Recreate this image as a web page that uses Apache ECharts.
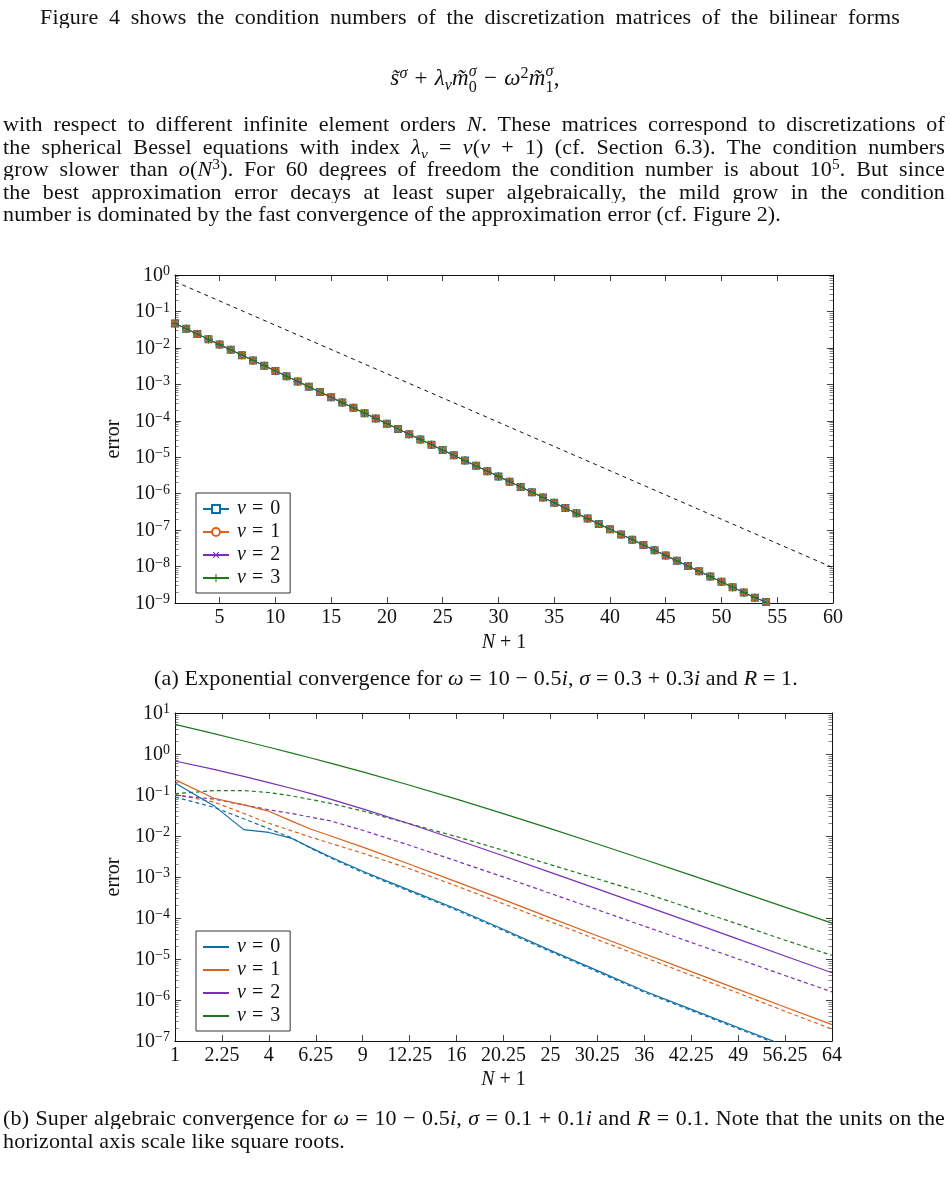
<!DOCTYPE html>
<html><head><meta charset="utf-8">
<script src="https://cdn.jsdelivr.net/npm/echarts@6/dist/echarts.min.js"></script>
<style>
html,body{margin:0;padding:0;background:#fff;}
#wrap{position:relative;width:950px;height:1180px;overflow:hidden;background:#fff;}
#chart{position:absolute;left:0;top:0;width:950px;height:1180px;}
.t{position:absolute;font-family:'Liberation Serif',serif;font-size:22px;letter-spacing:0.15px;color:#111;white-space:nowrap;line-height:23px;height:23px;z-index:2;}
.j{text-align:justify;text-align-last:justify;white-space:normal;overflow:hidden;}
sup,sub{font-size:0.7em;line-height:0;position:relative;vertical-align:baseline;}
sup{top:-0.45em;} sub{top:0.3em;}
.ss{display:inline-block;vertical-align:middle;font-size:0.7em;line-height:1;text-align:left;position:relative;top:-1px;}
.ss span{display:block;}
.op{margin:0 7px;}
</style></head>
<body><div id="wrap">
<div id="chart"></div>
<div class="t j" style="left:40px;top:5px;width:860px;">Figure 4 shows the condition numbers of the discretization matrices of the bilinear forms</div>
<div class="t" style="left:0;top:64px;width:950px;text-align:center;height:28px;line-height:28px;font-size:23px;"><i>s̃</i><sup><i>σ</i></sup><span class="op">+</span><i>λ</i><sub><i>ν</i></sub><i>m̃</i><span class="ss"><span><i>σ</i></span><span>0</span></span><span class="op">−</span><i>ω</i><sup>2</sup><i>m̃</i><span class="ss"><span><i>σ</i></span><span>1</span></span>,</div>
<div class="t j" style="left:3px;top:112px;width:942px;">with respect to different infinite element orders <i>N</i>. These matrices correspond to discretizations of</div>
<div class="t j" style="left:3px;top:135px;width:942px;">the spherical Bessel equations with index <i>λ</i><sub><i>ν</i></sub> = <i>ν</i>(<i>ν</i> + 1) (cf. Section 6.3). The condition numbers</div>
<div class="t j" style="left:3px;top:157px;width:942px;">grow slower than <i>o</i>(<i>N</i><sup>3</sup>). For 60 degrees of freedom the condition number is about 10<sup>5</sup>. But since</div>
<div class="t j" style="left:3px;top:180px;width:942px;">the best approximation error decays at least super algebraically, the mild grow in the condition</div>
<div class="t" style="left:3px;top:202px;">number is dominated by the fast convergence of the approximation error (cf. Figure 2).</div>
<div class="t" style="left:0;top:666px;width:952px;text-align:center;">(a) Exponential convergence for <i>ω</i> = 10 − 0.5<i>i</i>, <i>σ</i> = 0.3 + 0.3<i>i</i> and <i>R</i> = 1.</div>
<div class="t j" style="left:3px;top:1106px;width:942px;">(b) Super algebraic convergence for <i>ω</i> = 10 − 0.5<i>i</i>, <i>σ</i> = 0.1 + 0.1<i>i</i> and <i>R</i> = 0.1. Note that the units on the</div>
<div class="t" style="left:3px;top:1129px;">horizontal axis scale like square roots.</div>
</div>
<script>
// ---------- Data: chart (a) ----------
const nA = [1,2,3,4,5,6,7,8,9,10,11,12,13,14,15,16,17,18,19,20,21,22,23,24,25,26,27,
            28,29,30,31,32,33,34,35,36,37,38,39,40,41,42,43,44,45,46,47,48,49,50,51,52,53,54];
// error for nu = 0..3 (curves coincide at this scale)
const errA = [4.68e-2,3.35e-2,2.40e-2,1.72e-2,1.23e-2,8.84e-3,6.33e-3,4.54e-3,3.25e-3,2.33e-3,
              1.67e-3,1.20e-3,8.58e-4,6.15e-4,4.41e-4,3.16e-4,2.26e-4,1.62e-4,1.16e-4,8.33e-5,
              5.97e-5,4.28e-5,3.07e-5,2.20e-5,1.57e-5,1.13e-5,8.09e-6,5.80e-6,4.15e-6,2.98e-6,
              2.13e-6,1.53e-6,1.10e-6,7.85e-7,5.62e-7,4.03e-7,2.89e-7,2.07e-7,1.48e-7,1.06e-7,
              7.62e-8,5.46e-8,3.91e-8,2.80e-8,2.01e-8,1.44e-8,1.03e-8,7.39e-9,5.30e-9,3.80e-9,
              2.72e-9,1.95e-9,1.40e-9,1.06e-9];
const refAx = [1, 60];
const refAy = [0.66, 9.3e-9];
const xTicksA = [5,10,15,20,25,30,35,40,45,50,55,60];

// ---------- Data: chart (b) ----------
const nB = [1,2,3,4,5,6,7,9,12,16,20,25,30,36,42,49,56,64];
const b0 = [0.196,0.0550,0.0143,0.0122,8.91e-3,5.13e-3,3.16e-3,1.38e-3,5.13e-4,1.66e-4,5.62e-5,1.62e-5,5.50e-6,1.66e-6,6.17e-7,2.14e-7,7.94e-8,2.82e-8];
const b0d = [0.0891,0.0501,0.0263,0.0151,9.12e-3,5.01e-3,3.02e-3,1.29e-3,4.79e-4,1.55e-4,5.25e-5,1.51e-5,5.13e-6,1.55e-6,5.75e-7,2.00e-7,7.41e-8,2.63e-8];
const b1 = [0.237,0.0832,0.0575,0.0403,0.0234,0.0146,0.0103,5.35e-3,2.20e-3,7.62e-4,2.96e-4,1.01e-4,3.85e-5,1.34e-5,5.13e-6,1.82e-6,6.92e-7,2.51e-7];
const b1d = [0.102,0.0676,0.0355,0.0204,0.0135,9.33e-3,6.76e-3,3.80e-3,1.70e-3,6.03e-4,2.34e-4,8.13e-5,3.09e-5,1.10e-5,4.17e-6,1.48e-6,5.50e-7,1.95e-7];
const b2 = [0.676,0.420,0.284,0.201,0.146,0.108,0.0804,0.0458,0.0210,8.11e-3,3.44e-3,1.30e-3,5.35e-4,2.00e-4,8.13e-5,3.05e-5,1.22e-5,4.61e-6];
const b2d = [0.0984,0.0794,0.0575,0.0437,0.0355,0.0288,0.0237,0.0138,6.31e-3,2.45e-3,1.05e-3,3.98e-4,1.66e-4,6.31e-5,2.63e-5,1.00e-5,4.07e-6,1.58e-6];
const b3 = [5.30,3.13,2.08,1.46,1.07,0.798,0.608,0.367,0.183,0.0793,0.0366,0.0151,6.67e-3,2.67e-3,1.14e-3,4.52e-4,1.90e-4,7.50e-5];
const b3d = [0.107,0.128,0.128,0.115,0.0955,0.0776,0.0631,0.0407,0.0209,9.66e-3,4.68e-3,2.00e-3,9.33e-4,4.07e-4,1.76e-4,7.08e-5,2.95e-5,1.23e-5];

const legendLabels = ['0','1','2','3'];
const minorMult = [2,3,4,5,6,7,8,9];

// ---------- Styling ----------
const serif = "'Liberation Serif', 'DejaVu Serif', serif";
const ink = '#111';
const COL = ['#0c6ea6', '#d9621c', '#7a2fb8', '#1a7a1a'];

function minorVals(e0, e1){ const out=[]; for(let e=e0;e<e1;e++) for(const m of minorMult) out.push(m*Math.pow(10,e)); return out; }
function expLabel(v){ const e=Math.round(Math.log10(v)); return '{b|10}{s|'+(e<0?'\u2212'+(-e):e)+'}'; }
const richY = {
  b:{fontFamily:serif,fontSize:20,color:ink,lineHeight:21,verticalAlign:'bottom'},
  s:{fontFamily:serif,fontSize:14,color:ink,lineHeight:12,verticalAlign:'top'}
};
const nameRich = {
  i:{fontFamily:serif,fontSize:20,fontStyle:'italic',color:ink},
  e:{fontFamily:serif,fontSize:20,color:ink,padding:[0,5,0,5]}
};
const nameStyle = {fontFamily:serif,fontSize:20,color:ink,rich:nameRich};
const tickLine = {color:ink,width:0.8};

function yAxes(gi, min, max, minor){
  const base = {type:'log', logBase:10, min, max, gridIndex:gi, splitLine:{show:false}, minorTick:{show:false}};
  return [
    Object.assign({}, base, {position:'left', axisLine:{show:true,lineStyle:{color:ink,width:1}},
      axisTick:{show:true,inside:true,length:6,lineStyle:tickLine},
      axisLabel:{show:true,formatter:expLabel,rich:richY,margin:5,showMinLabel:true,showMaxLabel:true},
      name:'error', nameLocation:'middle', nameGap:44, nameRotate:90, nameTextStyle:nameStyle}),
    Object.assign({}, base, {position:'left', axisLine:{show:false},
      axisTick:{show:true,inside:true,length:3.5,customValues:minor,lineStyle:{color:'#333',width:0.6}}, axisLabel:{show:false}}),
    Object.assign({}, base, {position:'right', axisLine:{show:true,lineStyle:{color:ink,width:1}},
      axisTick:{show:true,inside:true,length:6,lineStyle:tickLine}, axisLabel:{show:false}}),
    Object.assign({}, base, {position:'right', axisLine:{show:false},
      axisTick:{show:true,inside:true,length:3.5,customValues:minor,lineStyle:{color:'#333',width:0.6}}, axisLabel:{show:false}})
  ];
}

const fmtSq = v => { const q = v*v; return String(Math.round(q*100)/100); };
const xName = '{i|N}{e|+}1';

const xAxes = [
  {type:'value', gridIndex:0, position:'bottom', min:1, max:60, splitLine:{show:false},
   axisLine:{show:true,lineStyle:{color:ink,width:1}},
   axisTick:{show:true,inside:true,length:6,customValues:xTicksA,lineStyle:tickLine},
   axisLabel:{show:true,customValues:xTicksA,fontFamily:serif,fontSize:20,color:ink,margin:5},
   name:xName, nameLocation:'middle', nameGap:30, nameTextStyle:nameStyle},
  {type:'value', gridIndex:0, position:'top', min:1, max:60, splitLine:{show:false},
   axisLine:{show:true,lineStyle:{color:ink,width:1}},
   axisTick:{show:true,inside:true,length:6,customValues:xTicksA,lineStyle:tickLine},
   axisLabel:{show:false}},
  {type:'value', gridIndex:1, position:'bottom', min:1, max:8, interval:0.5, splitLine:{show:false},
   axisLine:{show:true,lineStyle:{color:ink,width:1}},
   axisTick:{show:true,inside:true,length:6,lineStyle:tickLine},
   axisLabel:{show:true,formatter:fmtSq,fontFamily:serif,fontSize:20,color:ink,margin:5,showMinLabel:true,showMaxLabel:true,hideOverlap:false},
   name:xName, nameLocation:'middle', nameGap:29, nameTextStyle:nameStyle},
  {type:'value', gridIndex:1, position:'top', min:1, max:8, interval:0.5, splitLine:{show:false},
   axisLine:{show:true,lineStyle:{color:ink,width:1}},
   axisTick:{show:true,inside:true,length:6,lineStyle:tickLine},
   axisLabel:{show:false}}
];

const yA = yAxes(0, 1e-9, 1, minorVals(-9,0));
const yB = yAxes(1, 1e-7, 10, minorVals(-7,1));

const plusPath = 'path://M4.3,0H5.7V4.3H10V5.7H5.7V10H4.3V5.7H0V4.3H4.3Z';
const symA = [
  {symbol:'emptyRect', size:6, bw:1},
  {symbol:'emptyCircle', size:6, bw:1},
  {symbol:plusPath, size:6, bw:0, rot:45},
  {symbol:plusPath, size:8, bw:0, rot:0}
];

const series = [];
symA.forEach((s,k)=>{
  series.push({type:'line', name:'a'+k, xAxisIndex:0, yAxisIndex:0,
    data:nA.map((n,i)=>[n, errA[i]]),
    symbol:s.symbol, symbolSize:s.size, symbolRotate:s.rot||0, showSymbol:true,
    lineStyle:{color:COL[k],width:1}, itemStyle:{color:COL[k],borderColor:COL[k],borderWidth:s.bw},
    z:2+k, animation:false, silent:true});
});
series.push({type:'line', name:'refA', xAxisIndex:0, yAxisIndex:0,
  data:refAx.map((x,i)=>[x, refAy[i]]), symbol:'none',
  lineStyle:{color:ink,width:1,type:[4,4]}, z:1, animation:false, silent:true});

const solidB = [b0,b1,b2,b3], dashB = [b0d,b1d,b2d,b3d];
dashB.forEach((arr,k)=>{
  series.push({type:'line', name:'bd'+k, xAxisIndex:2, yAxisIndex:4,
    data:nB.map((n,i)=>[Math.sqrt(n), arr[i]]), symbol:'none',
    lineStyle:{color:COL[k],width:1.2,type:[4,3]}, z:2, animation:false, silent:true});
});
solidB.forEach((arr,k)=>{
  series.push({type:'line', name:'b'+k, xAxisIndex:2, yAxisIndex:4,
    data:nB.map((n,i)=>[Math.sqrt(n), arr[i]]), symbol:'none',
    lineStyle:{color:COL[k],width:1.2}, itemStyle:{color:COL[k]}, z:3, animation:false, silent:true});
});

const legendBase = {orient:'vertical', itemWidth:26, itemHeight:10, itemGap:3, padding:[6,10,5,6],
  borderColor:'#333', borderWidth:1, backgroundColor:'#fff', selectedMode:false, borderRadius:0,
  formatter:n=>'{i|\u03bd}{e|=}'+legendLabels[+n.slice(-1)],
  textStyle:{fontFamily:serif,fontSize:20,color:ink,lineHeight:20,
    rich:{i:{fontFamily:serif,fontSize:20,fontStyle:'italic',color:ink,padding:[0,0,0,3]},
          e:{fontFamily:serif,fontSize:20,color:ink,padding:[0,7,0,6]}}}};

const option = {
  backgroundColor:'#fff',
  animation:false,
  grid:[
    {left:175, top:275, width:658, height:328, outerBoundsMode:'none', containLabel:false},
    {left:175, top:713, width:657, height:328, outerBoundsMode:'none', containLabel:false}
  ],
  xAxis:xAxes,
  yAxis:yA.concat(yB),
  legend:[
    Object.assign({}, legendBase, {left:196, top:493, data:['a0','a1','a2','a3']}),
    Object.assign({}, legendBase, {left:196, top:931, itemStyle:{opacity:0}, data:['b0','b1','b2','b3']})
  ],
  series
};
const chart = echarts.init(document.getElementById('chart'), null, {renderer:'canvas'});
chart.setOption(option);
</script>
</body></html>
